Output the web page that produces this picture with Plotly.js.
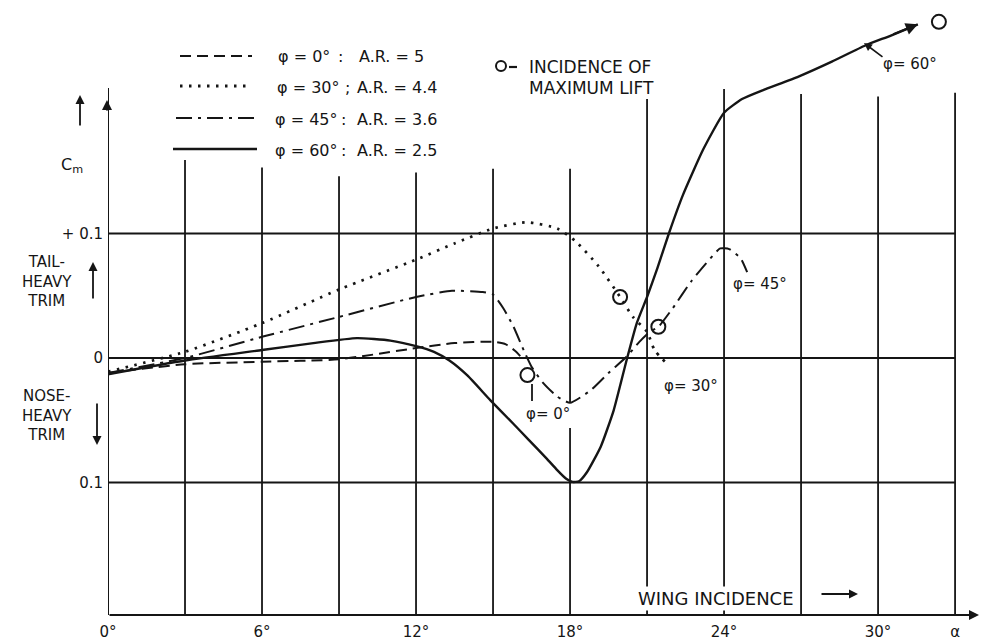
<!DOCTYPE html>
<html><head><meta charset="utf-8">
<script src="https://cdn.plot.ly/plotly-3.0.1.min.js"></script>
<style>html,body{margin:0;padding:0;background:#fff}</style>
</head><body><div id="chart" style="width:981px;height:640px"></div>
<script>
// ---- data (wing incidence in degrees, Cm) ----
const phi0_x = [0, 3, 6, 9, 12, 13.5, 15, 15.5, 15.9, 16.2];
const phi0_y = [-0.012, -0.005, -0.003, -0.001, 0.008, 0.012, 0.013, 0.011, 0.005, -0.002];

const phi30_x = [0, 3, 6, 9, 12, 13.5, 15, 16.3, 17.5, 18.2, 19.1, 19.95, 20.45, 21.0, 21.3, 21.75];
const phi30_y = [-0.011, 0.005, 0.028, 0.055, 0.079, 0.092, 0.104, 0.109, 0.104, 0.094, 0.074, 0.049, 0.033, 0.021, 0.006, -0.004];

const phi45_x = [0, 3, 6, 9, 12, 13.4, 14.6, 15.0, 15.4, 15.8, 16.2, 16.5, 16.95, 17.5, 18.0, 18.8, 19.55, 20.2, 20.7, 21.1, 21.44, 22.0, 22.7, 23.3, 23.85, 24.2, 24.65, 24.9];
const phi45_y = [-0.012, 0.0, 0.017, 0.033, 0.049, 0.054, 0.053, 0.051, 0.040, 0.025, 0.006, -0.007, -0.020, -0.031, -0.036, -0.026, -0.011, 0.001, 0.013, 0.021, 0.025, 0.040, 0.061, 0.076, 0.088, 0.0875, 0.080, 0.069];

const phi60_x = [0, 3, 6, 8, 9.7, 11, 12, 12.7, 13.3, 14.0, 14.9, 15.8, 16.4, 17.1, 17.5, 17.85, 18.1, 18.35, 18.65, 19.2, 19.7, 20.2, 20.6, 21.0, 21.4, 21.85, 22.4, 23.2, 24.0, 24.7, 25.5, 26.9, 28.2, 29.5, 30.5, 31.55];
const phi60_y = [-0.013, -0.002, 0.0064, 0.012, 0.016, 0.014, 0.0096, 0.005, -0.002, -0.014, -0.034, -0.053, -0.066, -0.081, -0.090, -0.097, -0.0995, -0.099, -0.092, -0.071, -0.042, -0.002, 0.028, 0.049, 0.072, 0.100, 0.131, 0.168, 0.197, 0.208, 0.215, 0.226, 0.238, 0.251, 0.259, 0.268];

const maxLift_x = [16.34, 19.95, 21.44, 32.37];
const maxLift_y = [-0.0137, 0.049, 0.0251, 0.270];

const xTickVals = [0, 6, 12, 18, 24, 30, 33];
const xTickText = ['0°', '6°', '12°', '18°', '24°', '30°', 'α'];
const yTickVals = [-0.1, 0, 0.1];
const yTickText = ['0.1', '0', '+ 0.1'];

const gridX   = [3, 6, 9, 12, 15, 18, 21, 24, 27, 30, 33];
const gridTop = [0.159, 0.153, 0.146, 0.149, 0.152, 0.152, 0.208, 0.216, 0.212, 0.210, 0.213];
const gridY   = [-0.1, 0, 0.1];

const legendNames = ['φ = 0°', 'φ = 30°', 'φ = 45°', 'φ = 60°'];
const legendAR    = ['A.R. = 5', 'A.R. = 4.4', 'A.R. = 3.6', 'A.R. = 2.5'];

// ---- geometry helpers ----
const W = 981, H = 640, L = 108, R = 0, T = 10, B = 25;
const XR = [0, 34.01], YR = [-0.2064, 0.2795];
const px2x = px => XR[0] + (px - L) / (W - L - R) * (XR[1] - XR[0]);
const py2y = py => YR[1] - (py - T) / (H - T - B) * (YR[1] - YR[0]);
const px2p = px => (px - L) / (W - L - R);
const py2p = py => (H - B - py) / (H - T - B);

const INK = '#151515';
const FONT = 'DejaVu Sans, Liberation Sans, sans-serif';
const DASH = '11px,6px', DOT = '2.5px,6.5px', DASHDOT = '16px,6px,3px,6px';

const traces = [
  {x: phi0_x, y: phi0_y, mode: 'lines', line: {color: INK, width: 2, dash: DASH, shape: 'spline', smoothing: 0.6}, cliponaxis: false, hoverinfo: 'skip'},
  {x: phi30_x, y: phi30_y, mode: 'lines', line: {color: INK, width: 2.7, dash: DOT, shape: 'spline', smoothing: 0.6}, cliponaxis: false, hoverinfo: 'skip'},
  {x: phi45_x, y: phi45_y, mode: 'lines', line: {color: INK, width: 2, dash: DASHDOT, shape: 'spline', smoothing: 0.5}, cliponaxis: false, hoverinfo: 'skip'},
  {x: phi60_x, y: phi60_y, mode: 'lines', line: {color: INK, width: 2.4, shape: 'spline', smoothing: 0.5}, cliponaxis: false, hoverinfo: 'skip'},
  {x: maxLift_x, y: maxLift_y, mode: 'markers', marker: {symbol: 'circle-open', size: 14, color: INK, line: {width: 2, color: INK}}, cliponaxis: false, hoverinfo: 'skip'}
];

const shapes = [];
const ln = (x0, y0, x1, y1, w, dash) => ({type: 'line', xref: 'x', yref: 'y', x0, y0, x1, y1, layer: 'below', line: {color: INK, width: w || 1.8, dash: dash || 'solid'}});

// vertical grid lines
gridX.forEach((gx, i) => {
  if (gx === 18) {
    shapes.push(ln(gx, YR[0], gx, py2y(428), 1.8));
    shapes.push(ln(gx, py2y(403), gx, gridTop[i], 1.8));
  } else {
    shapes.push(ln(gx, YR[0], gx, gridTop[i], 1.8));
  }
});
// horizontal grid lines
gridY.forEach(gy => shapes.push(ln(0, gy, 33, gy, 1.8)));
// y axis line
shapes.push(ln(0, YR[0], 0, py2y(88), 2));

// legend samples
const legY = [56, 86, 118, 149];
const legX = [[180, 252], [180, 247], [176, 255], [173, 257]];
const legDash = [DASH, DOT, DASHDOT, 'solid'];
const legW = [2.2, 2.8, 2.1, 2.3];
legY.forEach((py, i) => shapes.push(ln(px2x(legX[i][0]), py2y(py), px2x(legX[i][1]), py2y(py), legW[i], legDash[i])));

// key: "o-" for incidence of maximum lift
shapes.push({type: 'circle', xref: 'x', yref: 'y', xsizemode: 'pixel', ysizemode: 'pixel', xanchor: px2x(501), yanchor: py2y(66), x0: -5, x1: 5, y0: -5, y1: 5, line: {color: INK, width: 2}});
shapes.push(ln(px2x(509), py2y(67), px2x(517), py2y(67), 2.2));
// phi=0 leader
shapes.push(ln(px2x(532), py2y(384), px2x(532), py2y(401), 1.8));

const ann = [];
const txt = (px, py, text, size, xanchor, extra) => Object.assign({
  x: px2p(px), y: py2p(py), xref: 'paper', yref: 'paper', text, showarrow: false,
  xanchor: xanchor || 'center', yanchor: 'middle',
  font: {family: FONT, size: size || 15, color: INK}
}, extra || {});
const arrow = (hx, hy, tx, ty, w, size) => ({
  x: px2p(hx), y: py2p(hy), xref: 'paper', yref: 'paper', ax: tx - hx, ay: ty - hy,
  text: '', showarrow: true, arrowhead: 2, arrowsize: size || 1, arrowwidth: w || 1.8, arrowcolor: INK, standoff: 0, startstandoff: 0
});

// legend texts
const legNameX = [276, 275, 273, 273];
const legColon = [340, 347, 343, 343];
const legARX = [357, 355, 355, 355];
legY.forEach((py, i) => {
  ann.push(txt(legNameX[i], py + 1, legendNames[i], 16, 'left'));
  ann.push(txt(legColon[i], py + 1, i === 1 ? ';' : ':', 16, 'center'));
  ann.push(txt(legARX[i], py + 1, legendAR[i], 16, 'left'));
});

ann.push(txt(527, 67, 'INCIDENCE OF', 17, 'left'));
ann.push(txt(527, 88, 'MAXIMUM LIFT', 17, 'left'));

ann.push(txt(72, 165, 'C<sub>m</sub>', 16));
ann.push(txt(47, 281, 'TAIL-<br>HEAVY<br>TRIM', 15));
ann.push(txt(47, 416, 'NOSE-<br>HEAVY<br>TRIM', 15));

ann.push(arrow(80, 95, 80, 127, 1.8));
ann.push(arrow(93, 262, 93, 300, 1.8));
ann.push(arrow(97, 445, 97, 402, 1.8));
ann.push(arrow(107, 100, 107, 112, 2));

// x axis with arrow
ann.push(arrow(979, 615, 108, 615, 2));

ann.push(txt(716, 598, 'WING INCIDENCE', 18, 'center', {bgcolor: '#ffffff', borderpad: 1}));
ann.push(arrow(858, 594, 820, 594, 1.8));

ann.push(txt(548, 414, 'φ= 0°', 15));
ann.push(txt(691, 386, 'φ= 30°', 15));
ann.push(txt(760, 284, 'φ= 45°', 15));
ann.push(txt(910, 64, 'φ= 60°', 15));
ann.push(arrow(864, 43, 884, 58, 1.6));

// arrow at end of phi=60 curve
ann.push({x: phi60_x[phi60_x.length - 1], y: phi60_y[phi60_y.length - 1], xref: 'x', yref: 'y', ax: -26, ay: 10.5, text: '', showarrow: true, arrowhead: 2, arrowsize: 1.1, arrowwidth: 2.2, arrowcolor: INK, standoff: 0});

const layout = {
  width: W, height: H,
  margin: {l: L, r: R, t: T, b: B, pad: 0},
  paper_bgcolor: '#ffffff', plot_bgcolor: '#ffffff',
  showlegend: false,
  xaxis: {range: XR, showgrid: false, zeroline: false, showline: false, ticks: '',
          tickmode: 'array', tickvals: xTickVals, ticktext: xTickText, ticklabelstandoff: 6,
          tickfont: {family: FONT, size: 15, color: INK}, fixedrange: true},
  yaxis: {range: YR, showgrid: false, zeroline: false, showline: false, ticks: '',
          tickmode: 'array', tickvals: yTickVals, ticktext: yTickText, ticklabelstandoff: 4,
          tickfont: {family: FONT, size: 15, color: INK}, fixedrange: true},
  shapes, annotations: ann
};

Plotly.newPlot('chart', traces, layout, {displayModeBar: false, staticPlot: true});
</script></body></html>
